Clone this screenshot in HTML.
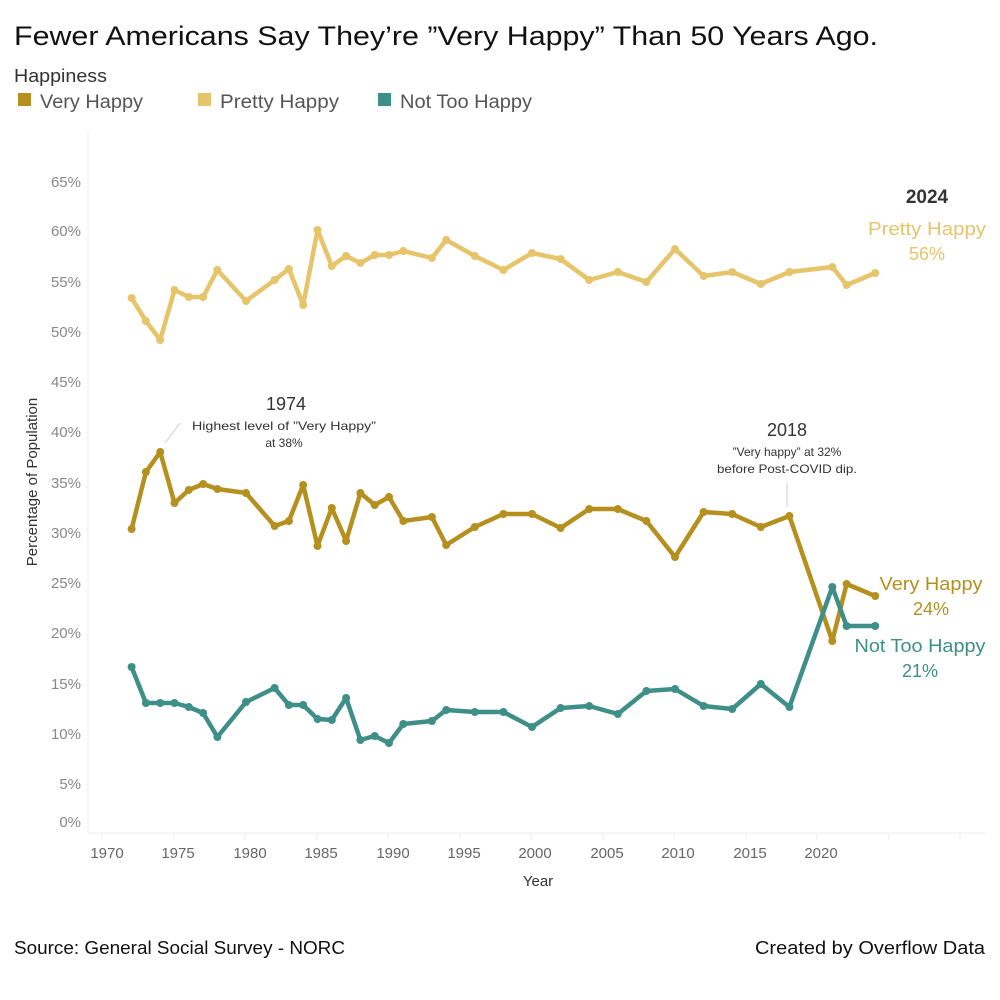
<!DOCTYPE html>
<html><head><meta charset="utf-8"><style>
body{margin:0;background:#fff;}
svg{display:block;font-family:"Liberation Sans",sans-serif;}
</style></head><body>
<svg width="1000" height="1000" viewBox="0 0 1000 1000" xmlns="http://www.w3.org/2000/svg">
<text x="14" y="45" font-size="27" fill="#111" textLength="864" lengthAdjust="spacingAndGlyphs">Fewer Americans Say They’re ”Very Happy” Than 50 Years Ago.</text>
<text x="14" y="82" font-size="18" fill="#333" textLength="93" lengthAdjust="spacingAndGlyphs">Happiness</text>
<rect x="18" y="93" width="13" height="13" fill="#b5901e"/><text x="40" y="108" font-size="19" fill="#555" textLength="103" lengthAdjust="spacingAndGlyphs">Very Happy</text>
<rect x="198" y="93" width="13" height="13" fill="#e5c46a"/><text x="220" y="108" font-size="19" fill="#555" textLength="119" lengthAdjust="spacingAndGlyphs">Pretty Happy</text>
<rect x="378" y="93" width="13" height="13" fill="#3d8f88"/><text x="400" y="108" font-size="19" fill="#555" textLength="132" lengthAdjust="spacingAndGlyphs">Not Too Happy</text>
<line x1="88" y1="130" x2="88" y2="833" stroke="#eee"/>
<line x1="88" y1="833" x2="985" y2="833" stroke="#eee"/>
<g font-size="15" fill="#888" text-anchor="end">
<text x="81" y="187">65%</text><text x="81" y="236">60%</text><text x="81" y="287">55%</text><text x="81" y="337">50%</text><text x="81" y="387">45%</text><text x="81" y="437">40%</text><text x="81" y="488">35%</text><text x="81" y="538">30%</text><text x="81" y="588">25%</text><text x="81" y="638">20%</text><text x="81" y="689">15%</text><text x="81" y="739">10%</text><text x="81" y="789">5%</text><text x="81" y="827">0%</text>
</g>
<g stroke="#eee"><line x1="102" y1="833" x2="102" y2="840"/><line x1="174" y1="833" x2="174" y2="840"/><line x1="245" y1="833" x2="245" y2="840"/><line x1="317" y1="833" x2="317" y2="840"/><line x1="388" y1="833" x2="388" y2="840"/><line x1="460" y1="833" x2="460" y2="840"/><line x1="531" y1="833" x2="531" y2="840"/><line x1="603" y1="833" x2="603" y2="840"/><line x1="674" y1="833" x2="674" y2="840"/><line x1="746" y1="833" x2="746" y2="840"/><line x1="817" y1="833" x2="817" y2="840"/><line x1="889" y1="833" x2="889" y2="840"/><line x1="960" y1="833" x2="960" y2="840"/></g>
<g font-size="15" fill="#666" text-anchor="middle">
<text x="107" y="858">1970</text><text x="178" y="858">1975</text><text x="250" y="858">1980</text><text x="321" y="858">1985</text><text x="393" y="858">1990</text><text x="464" y="858">1995</text><text x="535" y="858">2000</text><text x="607" y="858">2005</text><text x="678" y="858">2010</text><text x="750" y="858">2015</text><text x="821" y="858">2020</text>
</g>
<text x="538" y="886" font-size="15" fill="#333" text-anchor="middle">Year</text>
<text transform="translate(37,482) rotate(-90)" font-size="15" fill="#333" text-anchor="middle">Percentage of Population</text>
<line x1="165" y1="443" x2="180" y2="423" stroke="#ccc"/>
<line x1="787" y1="507" x2="787" y2="483" stroke="#ccc"/>
<g id="lines" fill="none" stroke-width="4.5" stroke-linejoin="round"></g>
<g id="dots"></g>
<text x="286" y="410" font-size="18" fill="#333" text-anchor="middle">1974</text>
<text x="284" y="430" font-size="12" fill="#333" text-anchor="middle" textLength="184" lengthAdjust="spacingAndGlyphs">Highest level of ”Very Happy”</text>
<text x="284" y="447" font-size="12" fill="#333" text-anchor="middle">at 38%</text>
<text x="787" y="436" font-size="18" fill="#333" text-anchor="middle">2018</text>
<text x="787" y="456" font-size="12" fill="#333" text-anchor="middle">”Very happy” at 32%</text>
<text x="787" y="473" font-size="12" fill="#333" text-anchor="middle" textLength="140" lengthAdjust="spacingAndGlyphs">before Post-COVID dip.</text>
<text x="927" y="203" font-size="19" font-weight="bold" fill="#333" text-anchor="middle">2024</text>
<text x="927" y="235" font-size="18" fill="#e5c46a" text-anchor="middle" textLength="118" lengthAdjust="spacingAndGlyphs">Pretty Happy</text>
<text x="927" y="260" font-size="18" fill="#e5c46a" text-anchor="middle">56%</text>
<text x="931" y="590" font-size="18" fill="#b5901e" text-anchor="middle" textLength="103" lengthAdjust="spacingAndGlyphs">Very Happy</text>
<text x="931" y="615" font-size="18" fill="#b5901e" text-anchor="middle">24%</text>
<text x="920" y="652" font-size="18" fill="#3d8f88" text-anchor="middle" textLength="131" lengthAdjust="spacingAndGlyphs">Not Too Happy</text>
<text x="920" y="677" font-size="18" fill="#3d8f88" text-anchor="middle">21%</text>
<text x="14" y="954" font-size="18" fill="#111" textLength="331" lengthAdjust="spacingAndGlyphs">Source: General Social Survey - NORC</text>
<text x="755" y="954" font-size="18" fill="#111" textLength="230" lengthAdjust="spacingAndGlyphs">Created by Overflow Data</text>
</svg>
<script>
const yrs=[1972,1973,1974,1975,1976,1977,1978,1980,1982,1983,1984,1985,1986,1987,1988,1989,1990,1991,1993,1994,1996,1998,2000,2002,2004,2006,2008,2010,2012,2014,2016,2018,2021,2022,2024];
const S=[["#e5c46a",[298,321,340,290,297,297,270,301,280,269,305,230,266,256,263,255,255,251,258,240,256,270,253,259,280,272,282,249,276,272,284,272,267,285,273]],
["#b5901e",[529,472,452,503,490,484,489,493,526,521,485,546,508,541,493,505,497,521,517,545,527,514,514,528,509,509,521,557,512,514,527,516,641,584,596]],
["#3d8f88",[667,703,703,703,707,713,737,702,688,705,705,719,720,698,740,736,743,724,721,710,712,712,727,708,706,714,691,689,706,709,684,707,587,626,626]]];
const L=document.getElementById('lines'),D=document.getElementById('dots'),ns="http://www.w3.org/2000/svg";
S.forEach(([c,v])=>{const p=yrs.map((y,i)=>[103+(y-1970)*14.3,v[i]]);
const pl=document.createElementNS(ns,'polyline');pl.setAttribute('points',p.map(q=>q.join(',')).join(' '));pl.setAttribute('stroke',c);L.appendChild(pl);
p.forEach(q=>{const ci=document.createElementNS(ns,'circle');ci.setAttribute('cx',q[0]);ci.setAttribute('cy',q[1]);ci.setAttribute('r',4);ci.setAttribute('fill',c);D.appendChild(ci);});});
</script>
</body></html>
